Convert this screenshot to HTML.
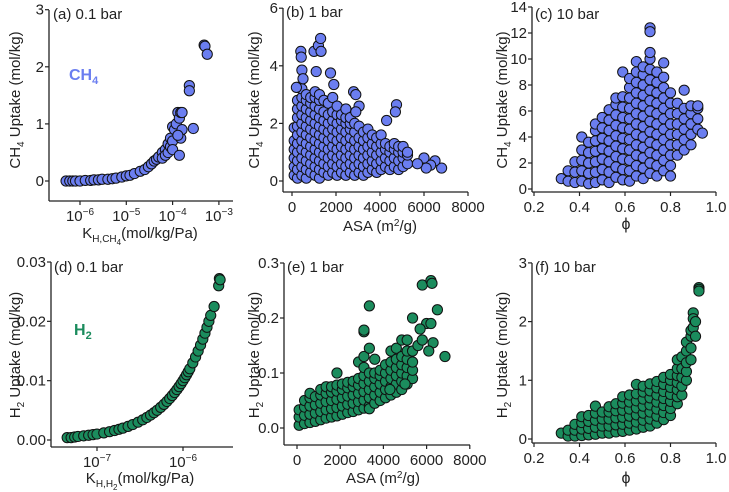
<!DOCTYPE html>
<html><head><meta charset="utf-8">
<style>
body{margin:0;background:#fff;}
svg{display:block;font-family:"Liberation Sans",Arial,sans-serif;}
</style></head>
<body>
<svg id="chart" width="729" height="492" viewBox="0 0 729 492"></svg>
<script>
// ---------- data ----------
const aX=[5e-7,6e-7,7e-7,8e-7,1e-6,1.3e-6,1.7e-6,2e-6,2.5e-6,3e-6,4e-6,5e-6,6e-6,8e-6,1e-5,1.2e-5,1.5e-5,2e-5,2.5e-5,3e-5,3.5e-5,4e-5,4.5e-5,5e-5,6e-5,6e-5,7e-5,7e-5,8e-5,8e-5,9e-5,9e-5,1e-4,1e-4,1.1e-4,1.2e-4,1.3e-4,1.4e-4,1.5e-4,1.5e-4,1.6e-4,1e-4,1.3e-4,1.4e-4,1.6e-4,2.3e-4,2.3e-4,2.8e-4,4.8e-4,5e-4,5.6e-4];
const aY=[0,0,0,0,0,0.01,0.01,0.02,0.02,0.03,0.03,0.04,0.05,0.07,0.09,0.1,0.13,0.17,0.2,0.25,0.3,0.35,0.38,0.42,0.5,0.4,0.55,0.45,0.65,0.5,0.75,0.6,0.95,0.7,0.9,1.0,1.2,1.1,1.2,0.75,0.9,0.55,0.8,0.45,1.2,1.67,1.58,0.92,2.38,2.36,2.22];

const bColX=[100,250,450,650,850,1050,1250,1450,1650,1850,2050,2250,2450,2650,2850,3050,3250,3450,3650,3850,4050,4250,4450,4650,4850,5050,5250];
const bColY=[[0.2,0.5,0.8,1.1,1.4,1.85],[0.1,0.4,0.7,1.0,1.3,1.6,1.9,2.2,2.5,2.8,3.25],[0.2,0.5,0.8,1.1,1.4,1.7,2.0,2.3,2.6,2.9,3.2],[0.1,0.4,0.7,1.0,1.3,1.6,1.9,2.2,2.5,2.8,3.0],[0.3,0.6,0.9,1.2,1.5,1.8,2.1,2.4,2.7,2.9],[0.2,0.5,0.8,1.1,1.4,1.7,2.0,2.3,2.6,2.9,3.1],[0.1,0.4,0.7,1.0,1.3,1.6,1.9,2.2,2.5,2.8,3.0],[0.3,0.6,0.9,1.2,1.5,1.8,2.1,2.4,2.8],[0.2,0.5,0.8,1.1,1.4,1.7,2.0,2.3,2.7],[0.3,0.6,0.9,1.2,1.5,1.8,2.1,2.4,2.9],[0.2,0.5,0.8,1.1,1.4,1.7,2.0,2.3,2.6],[0.3,0.6,0.9,1.2,1.5,1.8,2.1,2.3],[0.2,0.5,0.8,1.1,1.4,1.7,2.0,2.2,2.5],[0.3,0.6,0.9,1.2,1.5,1.8,2.0,2.2],[0.2,0.5,0.8,1.1,1.4,1.7,2.0],[0.3,0.6,0.9,1.2,1.5,1.9],[0.2,0.5,0.8,1.1,1.4,1.7],[0.3,0.6,0.9,1.2,1.5,1.8],[0.4,0.7,1.0,1.3,1.6],[0.3,0.6,0.9,1.2,1.5],[0.4,0.7,1.0,1.3,1.6],[0.5,0.8,1.1,1.3],[0.4,0.7,1.0,1.2],[0.5,0.8,1.1,1.3],[0.4,0.7,1.0,1.2],[0.5,0.8,1.0,1.2],[0.6,0.9,1.0]];
const bOutX=[400,420,450,1000,1100,1200,1300,1320,1750,1900,2800,2900,3050,2900,4750,4700,4300,6800,6500,6300,6000,6100,5700,200,500];
const bOutY=[4.5,4.3,3.85,4.5,3.8,4.7,4.95,4.5,3.75,3.35,3.1,3.0,2.6,2.4,2.65,2.4,2.1,0.45,0.7,0.55,0.8,0.45,0.6,3.25,3.55];

const cColX=[0.32,0.35,0.38,0.41,0.44,0.47,0.50,0.53,0.56,0.59,0.62,0.65,0.68,0.71,0.74,0.77,0.80,0.83,0.86,0.89,0.92,0.94];
const cColY=[[0.8],[0.6,1.4],[0.5,1.3,2.1],[0.6,1.4,2.2,3.0,4.0],[0.4,1.2,2.0,2.8,3.6],[0.5,1.3,2.1,2.9,3.7,4.5,5.0],[0.7,1.5,2.3,3.1,3.9,4.7,5.5],[0.5,1.3,2.1,2.9,3.7,4.5,5.3,6.1],[0.9,1.7,2.5,3.3,4.1,4.9,5.7,6.5,7.0],[0.7,1.5,2.3,3.1,3.9,4.7,5.5,6.3,7.1,9.0],[0.6,1.4,2.2,3.0,3.8,4.6,5.4,6.2,7.0,7.8,8.5],[1.0,1.8,2.6,3.4,4.2,5.0,5.8,6.6,7.4,8.2,9.0,9.8],[0.8,1.6,2.4,3.2,4.0,4.8,5.6,6.4,7.2,8.0,8.8,9.4],[1.2,2.0,2.8,3.6,4.4,5.2,6.0,6.8,7.6,8.4,9.2,10.0,10.5,12.4,12.1],[1.0,1.8,2.6,3.4,4.2,5.0,5.8,6.6,7.4,8.2,9.0],[1.4,2.2,3.0,3.8,4.6,5.4,6.2,7.0,7.8,8.6,9.7],[1.0,1.8,2.6,3.4,4.2,5.0,5.8,6.6,7.4],[2.6,3.4,4.2,5.0,5.8,6.6],[3.0,3.8,4.6,5.4,6.2,7.6],[3.4,4.2,5.0,5.8,6.4],[4.6,5.4,6.2,6.4],[4.3]];

const dX=[4.5e-8,5e-8,5.5e-8,6e-8,7e-8,8e-8,9e-8,1e-7,1.2e-7,1.4e-7,1.6e-7,1.8e-7,2e-7,2.3e-7,2.6e-7,3e-7,3.4e-7,3.8e-7,4.2e-7,4.6e-7,5e-7,5.5e-7,6e-7,6.5e-7,7e-7,7.5e-7,8e-7,8.5e-7,9e-7,9.5e-7,1e-6,1.05e-6,1.1e-6,1.15e-6,1.2e-6,1.3e-6,1.4e-6,1.5e-6,1.6e-6,1.7e-6,1.8e-6,1.9e-6,2e-6,2.1e-6,2.3e-6,2.6e-6,2.65e-6,2.7e-6];
const dY=[0.0004,0.0004,0.0005,0.0006,0.0007,0.0008,0.0009,0.001,0.0012,0.0014,0.0016,0.0018,0.002,0.0023,0.0026,0.003,0.0034,0.0038,0.0042,0.0046,0.005,0.0055,0.006,0.0065,0.007,0.0075,0.008,0.0085,0.009,0.0095,0.01,0.0105,0.011,0.0115,0.012,0.013,0.014,0.015,0.016,0.017,0.018,0.019,0.02,0.021,0.0225,0.026,0.0272,0.027];

const eColX=[100,350,600,850,1100,1350,1600,1850,2100,2350,2600,2850,3100,3350,3600,3850,4100,4350,4600,4850,5100,5350];
const eColY=[[0.005,0.02,0.033],[0.008,0.023,0.038,0.05],[0.01,0.025,0.04,0.055,0.063],[0.012,0.027,0.042,0.057],[0.015,0.03,0.045,0.06,0.07],[0.018,0.033,0.048,0.063,0.075],[0.02,0.035,0.05,0.065,0.075],[0.022,0.037,0.052,0.067,0.078,0.1],[0.025,0.04,0.055,0.07,0.08],[0.028,0.043,0.058,0.073,0.083],[0.03,0.045,0.06,0.075,0.085],[0.033,0.048,0.063,0.078,0.09,0.12],[0.036,0.051,0.066,0.081,0.095,0.11,0.13,0.175,0.178],[0.04,0.055,0.07,0.085,0.1,0.145,0.222,0.035],[0.045,0.06,0.075,0.09,0.1,0.125],[0.05,0.065,0.08,0.095,0.105],[0.055,0.07,0.085,0.1,0.115],[0.06,0.075,0.09,0.105,0.12,0.14],[0.065,0.08,0.095,0.11,0.125,0.145],[0.07,0.085,0.1,0.115,0.13,0.16],[0.08,0.095,0.11,0.125,0.14,0.16],[0.09,0.105,0.12,0.14,0.2]];
const eOutX=[5600,5800,6200,6250,6500,6000,6200,6300,6100,6850,5700,5800,4300,5000];
const eOutY=[0.15,0.26,0.268,0.263,0.215,0.19,0.19,0.155,0.14,0.13,0.18,0.16,0.07,0.08];

const fColX=[0.32,0.35,0.38,0.41,0.44,0.47,0.50,0.53,0.56,0.59,0.62,0.65,0.68,0.71,0.74,0.77,0.80,0.83,0.85,0.87,0.89,0.90,0.91,0.925];
const fColY=[[0.1],[0.05,0.15],[0.05,0.15,0.25],[0.06,0.17,0.28,0.38],[0.07,0.18,0.3,0.4],[0.08,0.2,0.32,0.44,0.56],[0.1,0.22,0.34,0.46],[0.1,0.22,0.34,0.46,0.55],[0.12,0.24,0.36,0.48,0.6],[0.13,0.25,0.37,0.49,0.61,0.72],[0.15,0.27,0.39,0.51,0.63,0.75],[0.17,0.29,0.41,0.53,0.65,0.77,0.93],[0.2,0.32,0.44,0.56,0.68,0.8,0.9],[0.22,0.34,0.46,0.58,0.7,0.82,0.94],[0.27,0.39,0.51,0.63,0.75,0.87,0.98],[0.33,0.45,0.57,0.69,0.81,0.93,1.05],[0.4,0.52,0.64,0.76,0.88,1.0,1.1],[0.6,0.72,0.84,0.96,1.08,1.2,1.35],[0.75,0.9,1.05,1.2,1.4],[1.0,1.15,1.3,1.5,1.65],[1.35,1.55,1.75,1.85],[1.9,2.15,2.05],[1.75,2.0],[2.58,2.55,2.52]];

const aYTicks=[0,1,2,3], aXTickExp=[-6,-5,-4,-3];
const bYTicks=[0,2,4,6], bXTicks=[0,2000,4000,6000,8000];
const cYTicks=[0,2,4,6,8,10,12,14], cXTicks=[0.2,0.4,0.6,0.8,1.0];
const dYTicks=[0,0.01,0.02,0.03], dXTickExp=[-7,-6];
const eYTicks=[0,0.1,0.2,0.3], eXTicks=[0,2000,4000,6000,8000];
const fYTicks=[0,1,2,3], fXTicks=[0.2,0.4,0.6,0.8,1.0];

// ---------- drawing ----------
const NS='http://www.w3.org/2000/svg';
const svg=document.getElementById('chart');
const BLUE='#6b7ef0', GREEN='#1b8c5d';
function el(tag,attrs,parent){const e=document.createElementNS(NS,tag);for(const k in attrs)e.setAttribute(k,attrs[k]);(parent||svg).appendChild(e);return e;}

const P={
 a:{ax:49,ay:201,xr:233,yt:10,sx:v=>80+46.3*(Math.log10(v)+6),sy:v=>181-57.1*v},
 b:{ax:283,ay:192,xr:468,yt:8,sx:v=>292+0.022*v,sy:v=>181-28.8*v},
 c:{ax:532,ay:192,xr:716,yt:7,sx:v=>534+227.5*(v-0.2),sy:v=>189-13*v},
 d:{ax:51,ay:447,xr:233,yt:262,sx:v=>97+86*(Math.log10(v)+7),sy:v=>440-5933*v},
 e:{ax:284,ay:445,xr:470,yt:263,sx:v=>297+0.0216*v,sy:v=>428-550*v},
 f:{ax:532,ay:443,xr:716,yt:263,sx:v=>534+227.5*(v-0.2),sy:v=>439-58.7*v}
};

function axes(key,yt,ylab,xt,xlab){
 const p=P[key];
 const g=el('g',{});
 
 
 el('line',{x1:p.ax,y1:p.yt,x2:p.ax,y2:p.ay,stroke:'#222','stroke-width':1.3},g);
 el('line',{x1:p.ax,y1:p.ay,x2:p.xr,y2:p.ay,stroke:'#222','stroke-width':1.3},g);
 yt.forEach((v,i)=>{const y=p.sy(v);
  el('line',{x1:p.ax-4,y1:y,x2:p.ax,y2:y,stroke:'#222','stroke-width':1.2},g);
  const t=el('text',{x:p.ax-5,y:y+5,'text-anchor':'end','font-size':15,fill:'#222'},g);
  
  
  t.textContent=ylab[i];});
 xt.forEach((v,i)=>{const x=p.sx(v);
  el('line',{x1:x,y1:p.ay,x2:x,y2:p.ay+4,stroke:'#222','stroke-width':1.2},g);
  const t=el('text',{x:x,y:p.ay+20,'text-anchor':'middle','font-size':15,fill:'#222'},g);
  
  
  if(typeof xlab[i]==='object'){t.textContent='10';const s=el('tspan',{dy:-6,'font-size':10},t);s.textContent=xlab[i].e;}
  else t.textContent=xlab[i];});
}
function dot(key,x,y,col,name){
 const p=P[key];
 const c=el('circle',{cx:p.sx(x),cy:p.sy(y),r:5.1,fill:col,stroke:'#111','stroke-width':1});
 
 
}
function cols(key,xs,ys,col,name){xs.forEach((x,i)=>ys[i].forEach(y=>dot(key,x,y,col,name)));}
function pairs(key,xs,ys,col,name){xs.forEach((x,i)=>dot(key,x,ys[i],col,name));}

axes('a',aYTicks,aYTicks.map(String),aXTickExp.map(e=>Math.pow(10,e)),aXTickExp.map(e=>({e:'\u2212'+(-e)})));
axes('b',bYTicks,bYTicks.map(String),bXTicks,bXTicks.map(String));
axes('c',cYTicks,cYTicks.map(String),cXTicks,cXTicks.map(v=>v.toFixed(1)));
axes('d',dYTicks,dYTicks.map(v=>v.toFixed(2)),dXTickExp.map(e=>Math.pow(10,e)),dXTickExp.map(e=>({e:'\u2212'+(-e)})));
axes('e',eYTicks,eYTicks.map(v=>v.toFixed(1)),eXTicks,eXTicks.map(String));
axes('f',fYTicks,fYTicks.map(String),fXTicks,fXTicks.map(v=>v.toFixed(1)));

pairs('a',aX,aY,BLUE,'ch4-point');
cols('b',bColX,bColY,BLUE,'ch4-point');
pairs('b',bOutX,bOutY,BLUE,'ch4-point');
cols('c',cColX,cColY,BLUE,'ch4-point');
pairs('d',dX,dY,GREEN,'h2-point');
cols('e',eColX,eColY,GREEN,'h2-point');
pairs('e',eOutX,eOutY,GREEN,'h2-point');
cols('f',fColX,fColY,GREEN,'h2-point');
</script>
<script>
(function(){
const NS='http://www.w3.org/2000/svg';const svg=document.getElementById('chart');
const html=`
<text x="53" y="19" font-size="15" fill="#222">(a) 0.1 bar</text>
<text x="286" y="17" font-size="15" fill="#222">(b) 1 bar</text>
<text x="535" y="19" font-size="15" fill="#222">(c) 10 bar</text>
<text x="54" y="272" font-size="15" fill="#222">(d) 0.1 bar</text>
<text x="287" y="272" font-size="15" fill="#222">(e) 1 bar</text>
<text x="535" y="272" font-size="15" fill="#222">(f) 10 bar</text>
<text x="69" y="80" font-size="16" font-weight="bold" fill="#6b7ef0">CH<tspan dy="4" font-size="11">4</tspan></text>
<text x="74" y="335" font-size="16" font-weight="bold" fill="#1b8c5d">H<tspan dy="4" font-size="11">2</tspan></text>
<text transform="translate(20,100) rotate(-90)" text-anchor="middle" font-size="15" fill="#222">CH<tspan dy="4" font-size="10">4</tspan><tspan dy="-4"> Uptake (mol/kg)</tspan></text>
<text transform="translate(259,100) rotate(-90)" text-anchor="middle" font-size="15" fill="#222">CH<tspan dy="4" font-size="10">4</tspan><tspan dy="-4"> Uptake (mol/kg)</tspan></text>
<text transform="translate(507,100) rotate(-90)" text-anchor="middle" font-size="15" fill="#222">CH<tspan dy="4" font-size="10">4</tspan><tspan dy="-4"> Uptake (mol/kg)</tspan></text>
<text transform="translate(20,355) rotate(-90)" text-anchor="middle" font-size="15" fill="#222">H<tspan dy="4" font-size="10">2</tspan><tspan dy="-4"> Uptake (mol/kg)</tspan></text>
<text transform="translate(259,355) rotate(-90)" text-anchor="middle" font-size="15" fill="#222">H<tspan dy="4" font-size="10">2</tspan><tspan dy="-4"> Uptake (mol/kg)</tspan></text>
<text transform="translate(507,355) rotate(-90)" text-anchor="middle" font-size="15" fill="#222">H<tspan dy="4" font-size="10">2</tspan><tspan dy="-4"> Uptake (mol/kg)</tspan></text>
<text x="140" y="238" text-anchor="middle" font-size="15" fill="#222">K<tspan dy="4" font-size="10">H,CH</tspan><tspan dy="3" font-size="8">4</tspan><tspan dy="-7">(mol/kg/Pa)</tspan></text>
<text x="380" y="231" text-anchor="middle" font-size="15" fill="#222">ASA (m<tspan dy="-5" font-size="10">2</tspan><tspan dy="5">/g)</tspan></text>
<text x="626" y="229" text-anchor="middle" font-size="16" fill="#222">ϕ</text>
<text x="140" y="483" text-anchor="middle" font-size="15" fill="#222">K<tspan dy="4" font-size="10">H,H</tspan><tspan dy="3" font-size="8">2</tspan><tspan dy="-7">(mol/kg/Pa)</tspan></text>
<text x="383" y="483" text-anchor="middle" font-size="15" fill="#222">ASA (m<tspan dy="-5" font-size="10">2</tspan><tspan dy="5">/g)</tspan></text>
<text x="626" y="483" text-anchor="middle" font-size="16" fill="#222">ϕ</text>`;
const g=document.createElementNS(NS,'g');


g.innerHTML=html;svg.appendChild(g);
})();
</script>
</body></html>
